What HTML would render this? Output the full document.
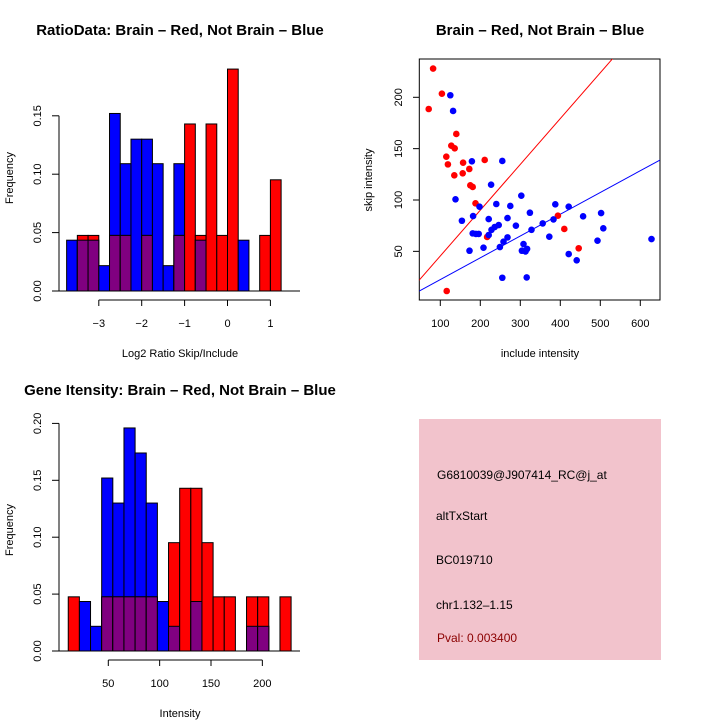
<!DOCTYPE html>
<html><head><meta charset="utf-8"><style>
body{margin:0;background:#fff}
svg{display:block;font-family:"Liberation Sans",sans-serif}
</style></head><body>
<svg id="chart" width="720" height="720" viewBox="0 0 720 720" xmlns="http://www.w3.org/2000/svg">
<rect width="720" height="720" fill="#fff"/>
<g id="p1"></g>
<g id="p2"></g>
<g id="p3"></g>
<g id="p4">
<rect x="419" y="419" width="242" height="241" fill="#f2c3cc"/>
<text x="437" y="476" font-size="12" dominant-baseline="middle">G6810039@J907414_RC@j_at</text>
<text x="436" y="517" font-size="12" dominant-baseline="middle">altTxStart</text>
<text x="436" y="561" font-size="12" dominant-baseline="middle">BC019710</text>
<text x="436" y="606" font-size="12" dominant-baseline="middle">chr1.132–1.15</text>
<text x="437" y="639" font-size="12" fill="#8b0000" dominant-baseline="middle">Pval: 0.003400</text>
</g>
</svg>
<script>
const NS="http://www.w3.org/2000/svg";
// Ratio histogram data
const ratioBinStart=-3.75, ratioBinWidth=0.25;
const ratioBlue=[0.0435,0.0435,0.0435,0.0217,0.152,0.109,0.130,0.130,0.109,0.0217,0.109,0,0.0435,0,0,0,0.0435,0,0,0];
const ratioRed=[0,0.0476,0.0476,0,0.0476,0.0476,0,0.0476,0,0,0.0476,0.143,0.0476,0.143,0.0476,0.190,0,0,0.0476,0.0952];
const ratioXTicks=[-3,-2,-1,0,1];
const ratioYTicks=[0,0.05,0.10,0.15];
const ratioYTickLabels=["0.00","0.05","0.10","0.15"];
// Intensity histogram data
const intBinStart=11, intBinWidth=10.85;
const intBlue=[0,0.0435,0.0217,0.152,0.130,0.196,0.174,0.130,0.0435,0.0217,0,0.0435,0,0,0,0,0.0217,0.0217,0,0];
const intRed=[0.0476,0,0,0.0476,0.0476,0.0476,0.0476,0.0476,0,0.0952,0.143,0.143,0.0952,0.0476,0.0476,0,0.0476,0.0476,0,0.0476];
const intXTicks=[50,100,150,200];
const intYTicks=[0,0.05,0.10,0.15,0.20];
const intYTickLabels=["0.00","0.05","0.10","0.15","0.20"];
// Scatter data
const redX=[82,104,71,140,127.5,136,115,119,157,211,172.5,156,135,175,181,188,394,410,217,446,116];
const redY=[228,203.5,188.6,164.3,152.9,150.3,142.2,134.7,136.3,139,130.2,126,124,114.3,112.7,96.8,84.7,71.8,64,53,11.4];
const blueX=[125,132,179,255,227,138,198,240,275,302.5,324,387.5,421,457,502,507.5,493,628,182,154,221,268,289,246,236,228,221,181,189,196,328,356,383,372.5,268,258,249,208,173,308,317,304,313,421,441,255,316];
const blueY=[202,186.7,137.7,138,114.9,100.7,93.5,96.1,94.2,104.2,87.6,95.8,93.5,84.1,87.3,72.4,60.4,62,84.4,79.8,81.4,82.4,75,75.6,73.7,71,65.9,67.5,67,67,71,77.2,81.1,64.3,63.6,59.4,54.2,53.6,50.6,57.1,52.4,50.6,49.9,47.4,41.3,24.3,24.6];
const redFit=[0.9,0.446];
const blueFit=[1.3,0.212];
const scXTicks=[100,200,300,400,500,600];
const scYTicks=[50,100,150,200];

function el(tag,attrs,parent,text){const e=document.createElementNS(NS,tag);for(const k in attrs)e.setAttribute(k,attrs[k]);if(text!==undefined)e.textContent=text;parent.appendChild(e);return e;}

function hist(g,opt){
  const sx=v=>opt.x0+(v-opt.vx0)*opt.kx, sy=v=>opt.y0-v*opt.ky;
  for(let i=0;i<opt.blue.length;i++){
    const a=opt.start+i*opt.w, b=a+opt.w, bl=opt.blue[i], rd=opt.red[i];
    const x=sx(a), wd=sx(b)-sx(a);
    if(bl>0){const r=el('rect',{x:x,y:sy(bl),width:wd,height:sy(0)-sy(bl),fill:'#0000ff',stroke:'#000','stroke-width':1},g);
      
      }
    if(rd>0){const r=el('rect',{x:x,y:sy(rd),width:wd,height:sy(0)-sy(rd),fill:'#ff0000',stroke:'#000','stroke-width':1},g);
      
      }
    const m=Math.min(bl,rd);
    if(m>0){const r=el('rect',{x:x,y:sy(m),width:wd,height:sy(0)-sy(m),fill:'#800080',stroke:'#000','stroke-width':1},g);
      
      }
  }
  el('line',{x1:59,x2:300,y1:sy(0),y2:sy(0),stroke:'#000'},g);
  const yt=opt.yTicks;
  const ya=el('line',{x1:59,x2:59,y1:sy(yt[0]),y2:sy(yt[yt.length-1]),stroke:'#000'},g);
  
  
  yt.forEach((t,i)=>{el('line',{x1:52,x2:59,y1:sy(t),y2:sy(t),stroke:'#000'},g);
    const tx=el('text',{x:0,y:0,'font-size':11,'text-anchor':'middle',transform:`translate(41,${sy(t)}) rotate(-90)`},g,opt.yLabels[i]);
    
    });
  const xt=opt.xTicks, ay=opt.axisY;
  const xa=el('line',{x1:sx(xt[0]),x2:sx(xt[xt.length-1]),y1:ay,y2:ay,stroke:'#000'},g);
  
  
  xt.forEach(t=>{el('line',{x1:sx(t),x2:sx(t),y1:ay,y2:ay+6,stroke:'#000'},g);
    const tx=el('text',{x:sx(t),y:ay+27,'font-size':11,'text-anchor':'middle'},g,t<0?'−'+(-t):String(t));
    
    });
  const ti=el('text',{x:180,y:opt.titleY,'font-size':15,'font-weight':'bold','text-anchor':'middle'},g,opt.title);
  
  
  const xl=el('text',{x:180,y:opt.xlabY,'font-size':11,'text-anchor':'middle'},g,opt.xlab);
  
  
  const yl=el('text',{x:0,y:0,'font-size':11,'text-anchor':'middle',transform:`translate(13,${opt.ylabY}) rotate(-90)`},g,'Frequency');
  
  
}
hist(document.getElementById('p1'),{x0:227.5,vx0:0,kx:42.9,y0:291,ky:1168,start:ratioBinStart,w:ratioBinWidth,blue:ratioBlue,red:ratioRed,xTicks:ratioXTicks,yTicks:ratioYTicks,yLabels:ratioYTickLabels,axisY:300,title:'RatioData: Brain – Red, Not Brain – Blue',titleY:35,xlab:'Log2 Ratio Skip/Include',xlabY:357,ylabY:178});
hist(document.getElementById('p3'),{x0:108.3,vx0:50,kx:1.027,y0:651,ky:1138,start:intBinStart,w:intBinWidth,blue:intBlue,red:intRed,xTicks:intXTicks,yTicks:intYTicks,yLabels:intYTickLabels,axisY:660,title:'Gene Itensity: Brain – Red, Not Brain – Blue',titleY:395,xlab:'Intensity',xlabY:717,ylabY:530});

(function(){
  const g=document.getElementById('p2');
  const sx=v=>400.3+v*0.4, sy=v=>302.7-v*1.027;
  const cp=el('clipPath',{id:'scClip'},g);
  el('rect',{x:419.3,y:59,width:240.7,height:241},cp);
  const fr=el('rect',{x:419.3,y:59,width:240.7,height:241,fill:'none',stroke:'#000'},g);
  
  
  const lg=el('g',{'clip-path':'url(#scClip)'},g);
  const rl=el('line',{x1:sx(0),y1:sy(redFit[0]),x2:sx(700),y2:sy(redFit[0]+redFit[1]*700),stroke:'#ff0000'},lg);
  
  
  const bl=el('line',{x1:sx(0),y1:sy(blueFit[0]),x2:sx(700),y2:sy(blueFit[0]+blueFit[1]*700),stroke:'#0000ff'},lg);
  
  
  redX.forEach((x,i)=>{const c=el('circle',{cx:sx(x),cy:sy(redY[i]),r:3.3,fill:'#ff0000'},g);
    
    });
  blueX.forEach((x,i)=>{const c=el('circle',{cx:sx(x),cy:sy(blueY[i]),r:3.3,fill:'#0000ff'},g);
    
    });
  scXTicks.forEach(t=>{el('line',{x1:sx(t),x2:sx(t),y1:300,y2:306,stroke:'#000'},g);
    const tx=el('text',{x:sx(t),y:327,'font-size':11,'text-anchor':'middle'},g,String(t));
    
    });
  scYTicks.forEach(t=>{el('line',{x1:413,x2:419.3,y1:sy(t),y2:sy(t),stroke:'#000'},g);
    const tx=el('text',{x:0,y:0,'font-size':11,'text-anchor':'middle',transform:`translate(402,${sy(t)}) rotate(-90)`},g,String(t));
    
    });
  const ti=el('text',{x:540,y:35,'font-size':15,'font-weight':'bold','text-anchor':'middle'},g,'Brain – Red, Not Brain – Blue');
  
  
  const xl=el('text',{x:540,y:357,'font-size':11,'text-anchor':'middle'},g,'include intensity');
  
  
  const yl=el('text',{x:0,y:0,'font-size':11,'text-anchor':'middle',transform:`translate(372,180) rotate(-90)`},g,'skip intensity');
  
  
})();
</script>
</body></html>
